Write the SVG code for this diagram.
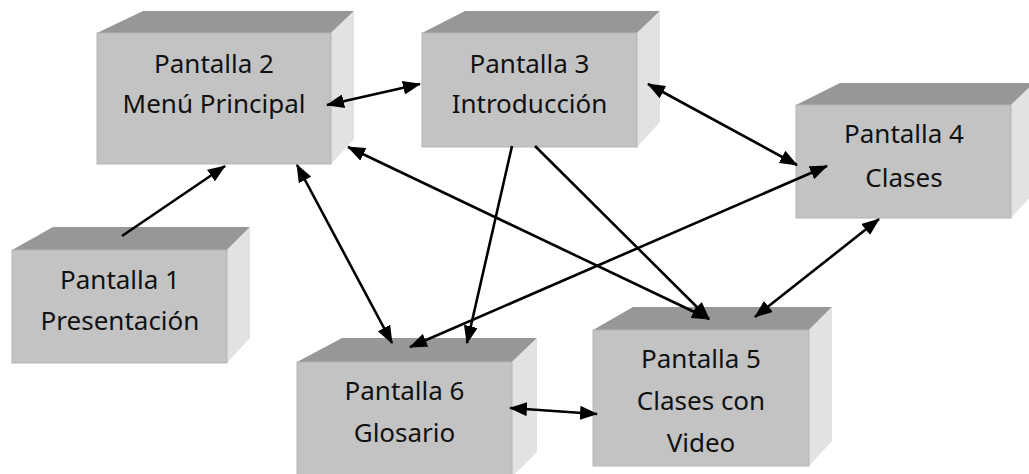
<svg xmlns="http://www.w3.org/2000/svg" width="1029" height="474" viewBox="0 0 1029 474">
<style>
.front{fill:#c3c3c3;stroke:#b5b5b5;stroke-width:1}
.top{fill:#979797}
.side{fill:#e2e2e2}
.lbl{font-family:"Noto Sans","Liberation Sans",sans-serif;font-size:26px;fill:#111;text-anchor:middle}
.conn{stroke:#000;stroke-width:2.6;fill:none}
</style>
<defs>
<marker id="ah" viewBox="0 0 18 14" refX="17" refY="7" markerWidth="18" markerHeight="14" markerUnits="userSpaceOnUse" orient="auto-start-reverse">
<path d="M0,0 L18,7 L0,14 z" fill="#000"/>
</marker>
</defs>
<rect width="1029" height="474" fill="#fff"/>
<g id="pantalla1">
<polygon class="top" points="12,250 53,227 250,227 227,250"/>
<polygon class="side" points="227,250 250,227 250,338 227,363"/>
<rect class="front" x="12" y="250" width="215" height="113"/>
<text class="lbl" x="120" y="289">Pantalla 1</text>
<text class="lbl" x="120" y="330">Presentación</text>
</g>
<g id="pantalla2">
<polygon class="top" points="97,33 143,11 354,11 331,33"/>
<polygon class="side" points="331,33 354,11 354,139 331,164"/>
<rect class="front" x="97" y="33" width="234" height="131"/>
<text class="lbl" x="214" y="73">Pantalla 2</text>
<text class="lbl" x="214" y="113">Menú Principal</text>
</g>
<g id="pantalla3">
<polygon class="top" points="422,33 465,11 660,11 637,33"/>
<polygon class="side" points="637,33 660,11 660,122 637,147"/>
<rect class="front" x="422" y="33" width="215" height="114"/>
<text class="lbl" x="529.5" y="73">Pantalla 3</text>
<text class="lbl" x="529.5" y="113">Introducción</text>
</g>
<g id="pantalla4">
<polygon class="top" points="796,105 840,83 1034,83 1011,105"/>
<polygon class="side" points="1011,105 1034,83 1034,193 1011,218"/>
<rect class="front" x="796" y="105" width="215" height="113"/>
<text class="lbl" x="904" y="143">Pantalla 4</text>
<text class="lbl" x="904" y="187">Clases</text>
</g>
<g id="pantalla6">
<polygon class="top" points="297,362 342,338 537,338 512,362"/>
<polygon class="side" points="512,362 537,338 537,452 512,477"/>
<rect class="front" x="297" y="362" width="215" height="115"/>
<text class="lbl" x="404.5" y="400">Pantalla 6</text>
<text class="lbl" x="404.5" y="442">Glosario</text>
</g>
<g id="pantalla5">
<polygon class="top" points="593,330 633,307 832,307 809,330"/>
<polygon class="side" points="809,330 832,307 832,441 809,466"/>
<rect class="front" x="593" y="330" width="216" height="136"/>
<text class="lbl" x="701" y="368">Pantalla 5</text>
<text class="lbl" x="701" y="410">Clases con</text>
<text class="lbl" x="701" y="452">Video</text>
</g>
<g id="connectors">
<line class="conn" x1="122" y1="236" x2="225" y2="166" marker-end="url(#ah)"/>
<line class="conn" x1="327" y1="105" x2="420" y2="84" marker-start="url(#ah)" marker-end="url(#ah)"/>
<line class="conn" x1="648" y1="84" x2="797" y2="165" marker-start="url(#ah)" marker-end="url(#ah)"/>
<line class="conn" x1="297" y1="165" x2="392" y2="343" marker-start="url(#ah)" marker-end="url(#ah)"/>
<line class="conn" x1="348" y1="147" x2="709" y2="319" marker-start="url(#ah)" marker-end="url(#ah)"/>
<line class="conn" x1="535" y1="146" x2="709" y2="319" marker-end="url(#ah)"/>
<line class="conn" x1="512" y1="146" x2="467" y2="343" marker-end="url(#ah)"/>
<line class="conn" x1="827" y1="166" x2="410" y2="347" marker-start="url(#ah)" marker-end="url(#ah)"/>
<line class="conn" x1="879" y1="219" x2="755" y2="317" marker-start="url(#ah)" marker-end="url(#ah)"/>
<line class="conn" x1="510" y1="408" x2="597" y2="414" marker-start="url(#ah)" marker-end="url(#ah)"/>
</g>
</svg>
